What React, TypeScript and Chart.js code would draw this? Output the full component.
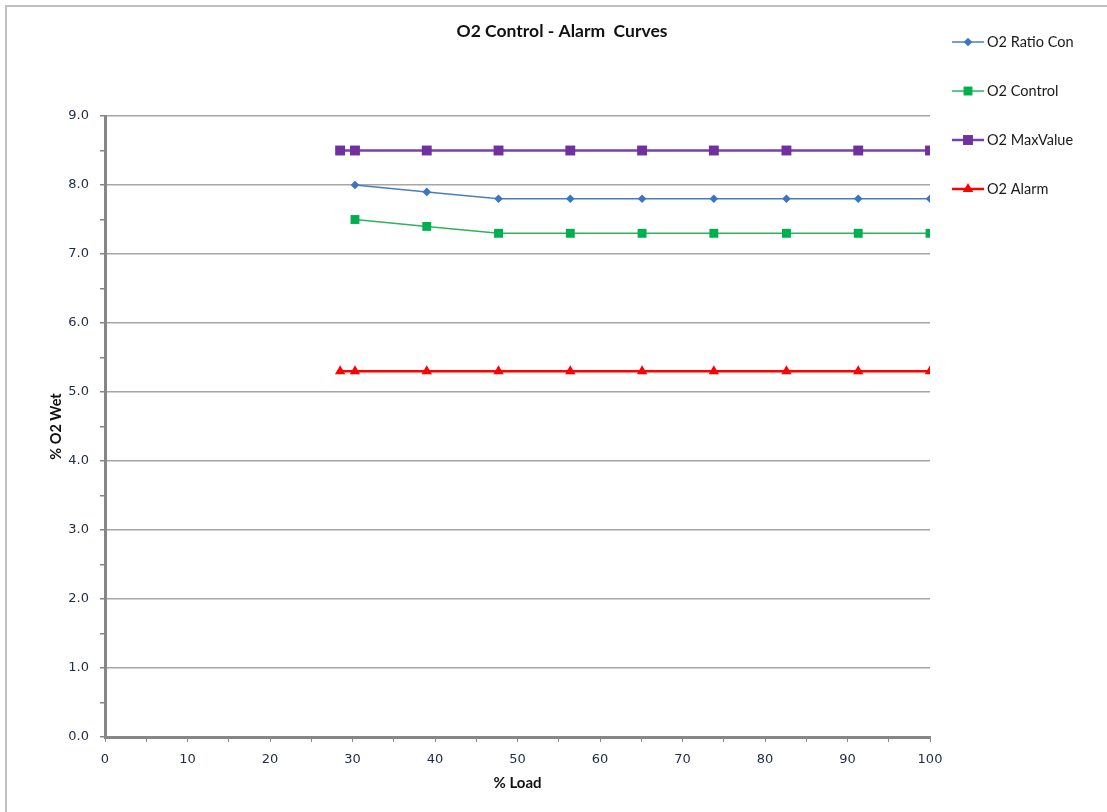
import React, { useEffect, useRef } from 'react';
import { Chart, registerables } from 'chart.js';
Chart.register(...registerables);

const chartTitle = 'O2 Control - Alarm  Curves';
const xAxisTitle = '% Load';
const yAxisTitle = '% O2 Wet';

const loadValues = [28.5, 30.3, 39.0, 47.7, 56.4, 65.1, 73.8, 82.6, 91.3, 100];
const ratioConValues = [null, 8.0, 7.9, 7.8, 7.8, 7.8, 7.8, 7.8, 7.8, 7.8];
const controlValues = [null, 7.5, 7.4, 7.3, 7.3, 7.3, 7.3, 7.3, 7.3, 7.3];
const maxValueValues = [8.5, 8.5, 8.5, 8.5, 8.5, 8.5, 8.5, 8.5, 8.5, 8.5];
const alarmValues = [5.3, 5.3, 5.3, 5.3, 5.3, 5.3, 5.3, 5.3, 5.3, 5.3];

const seriesNames = ['O2 Ratio Con', 'O2 Control', 'O2 MaxValue', 'O2 Alarm'];

const toPoints = (vals: (number | null)[]) =>
  loadValues
    .map((x, i) => ({ x, y: vals[i] }))
    .filter((p) => p.y !== null) as { x: number; y: number }[];

function drawMarker(ctx: CanvasRenderingContext2D, style: string, x: number, y: number, r: number, color: string) {
  ctx.save();
  ctx.fillStyle = color;
  ctx.beginPath();
  if (style === 'rect') {
    const s = Math.SQRT1_2 * r;
    ctx.rect(x - s, y - s, 2 * s, 2 * s);
  } else if (style === 'rectRot') {
    ctx.moveTo(x, y - r);
    ctx.lineTo(x + r, y);
    ctx.lineTo(x, y + r);
    ctx.lineTo(x - r, y);
    ctx.closePath();
  } else if (style === 'triangle') {
    ctx.moveTo(x, y - r);
    ctx.lineTo(x + r * 0.866, y + r * 0.5);
    ctx.lineTo(x - r * 0.866, y + r * 0.5);
    ctx.closePath();
  }
  ctx.fill();
  ctx.restore();
}

const overlayPlugin = {
  id: 'overlay',
  beforeDraw(chart: any) {
    const ctx = chart.ctx;
    ctx.save();
    ctx.fillStyle = '#ffffff';
    ctx.fillRect(0, 0, chart.width, chart.height);
    ctx.strokeStyle = '#c0c0c0';
    ctx.lineWidth = 2;
    ctx.beginPath();
    ctx.moveTo(6, chart.height + 5);
    ctx.lineTo(6, 6);
    ctx.lineTo(chart.width + 5, 6);
    ctx.stroke();
    ctx.restore();
  },
  afterDraw(chart: any) {
    const ctx = chart.ctx;
    const area = chart.chartArea;
    ctx.save();
    ctx.fillStyle = '#111111';
    ctx.textAlign = 'center';
    ctx.textBaseline = 'middle';
    ctx.font = 'bold 17.5px Lato';
    ctx.fillText(chartTitle, 562, 31);
    ctx.font = 'bold 15px Lato';
    ctx.fillText(xAxisTitle, (area.left + area.right) / 2, 783);
    ctx.save();
    ctx.translate(56, (area.top + area.bottom) / 2);
    ctx.rotate(-Math.PI / 2);
    ctx.font = 'bold 14.5px Lato';
    ctx.fillText(yAxisTitle, 0, 0);
    ctx.restore();

    chart.data.datasets.forEach((ds: any, i: number) => {
      const y = 42 + 49 * i;
      ctx.strokeStyle = ds.borderColor;
      ctx.lineWidth = ds.borderWidth;
      ctx.beginPath();
      ctx.moveTo(952, y);
      ctx.lineTo(984, y);
      ctx.stroke();
      drawMarker(ctx, ds.pointStyle, 968, y, ds.pointRadius, ds.pointBackgroundColor);
      ctx.fillStyle = '#1a1a1a';
      ctx.font = '14.5px Lato';
      ctx.textAlign = 'left';
      ctx.fillText(ds.label, 987, y);
    });
    ctx.restore();
  },
};

export default function App() {
  const ref = useRef<HTMLCanvasElement | null>(null);
  useEffect(() => {
    if (!ref.current) return;
    const chart = new Chart(ref.current, {
      type: 'scatter',
      data: {
        datasets: [
          {
            label: seriesNames[0],
            data: toPoints(ratioConValues),
            showLine: true,
            borderColor: '#4a7ebb',
            borderWidth: 1.5,
            pointStyle: 'rectRot',
            pointRadius: 4.3,
            pointBackgroundColor: '#3c74c4',
            pointBorderWidth: 0,
          },
          {
            label: seriesNames[1],
            data: toPoints(controlValues),
            showLine: true,
            borderColor: '#2eb35a',
            borderWidth: 1.5,
            pointStyle: 'rect',
            pointRadius: 6.3,
            pointBackgroundColor: '#00b050',
            pointBorderWidth: 0,
          },
          {
            label: seriesNames[2],
            data: toPoints(maxValueValues),
            showLine: true,
            borderColor: '#7b3fa8',
            borderWidth: 2.5,
            pointStyle: 'rect',
            pointRadius: 7,
            pointBackgroundColor: '#7030a0',
            pointBorderWidth: 0,
          },
          {
            label: seriesNames[3],
            data: toPoints(alarmValues),
            showLine: true,
            borderColor: '#ff0000',
            borderWidth: 2.5,
            pointStyle: 'triangle',
            pointRadius: 6,
            pointBackgroundColor: '#ff0000',
            pointBorderWidth: 0,
          },
        ] as any,
      },
      options: {
        animation: false,
        responsive: false,
        maintainAspectRatio: false,
        layout: { padding: { left: 0, top: 116, right: 177, bottom: 0 } },
        plugins: { legend: { display: false }, title: { display: false }, tooltip: { enabled: false } },
        scales: {
          x: {
            type: 'linear',
            min: 0,
            max: 100,
            afterFit: (s: any) => {
              s.height = 75;
            },
            ticks: {
              stepSize: 5,
              autoSkip: false,
              maxRotation: 0,
              padding: 10,
              color: '#1f2a44',
              font: { family: 'DejaVu Sans', size: 13 },
              callback: (v: any) => (Number(v) % 10 === 0 ? String(v) : ''),
            },
            grid: {
              drawOnChartArea: false,
              drawTicks: true,
              tickLength: 5,
              tickColor: '#868686',
              lineWidth: 1,
            },
            border: { color: '#868686', width: 3 },
          },
          y: {
            type: 'linear',
            min: 0,
            max: 9,
            afterFit: (s: any) => {
              s.width = 105;
            },
            ticks: {
              stepSize: 0.5,
              autoSkip: false,
              padding: 11,
              color: '#1f2a44',
              font: { family: 'DejaVu Sans', size: 13 },
              callback: (v: any) => (Number(v) % 1 === 0 ? Number(v).toFixed(1) : ''),
            },
            grid: {
              color: (c: any) => (c.tick && c.tick.value % 1 === 0 ? '#a6a6a6' : 'rgba(0,0,0,0)'),
              tickColor: '#868686',
              tickLength: 5,
              lineWidth: 1.5,
            },
            border: { color: '#868686', width: 3 },
          },
        },
      } as any,
      plugins: [overlayPlugin],
    });
    return () => chart.destroy();
  }, []);
  return (
    <div style={{ position: 'fixed', left: 0, top: 0, width: 1107, height: 812, background: '#fff' }}>
      <canvas ref={ref} width={1107} height={812} style={{ width: 1107, height: 812, display: 'block' }} />
    </div>
  );
}
